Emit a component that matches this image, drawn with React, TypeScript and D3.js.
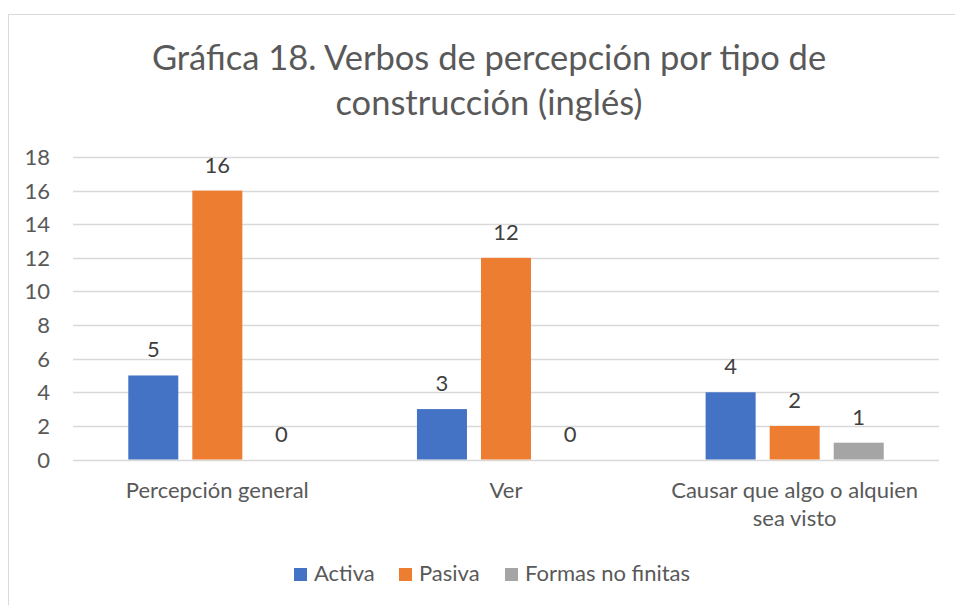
import * as d3 from 'd3';
import { useEffect, useRef } from 'react';

const categories = ['Percepción general', 'Ver', 'Causar que algo o alquien sea visto'];
const seriesNames = ['Activa', 'Pasiva', 'Formas no finitas'];
const activa = [5, 3, 4];
const pasiva = [16, 12, 2];
const formasNoFinitas = [0, 0, 1];
const yTicks = [0, 2, 4, 6, 8, 10, 12, 14, 16, 18];
const colors = ['#4472c4', '#ed7d31', '#a5a5a5'];

export default function App() {
  const ref = useRef<SVGSVGElement>(null);

  useEffect(() => {
    const svg = d3.select(ref.current);
    svg.selectAll('*').remove();
    const font = 'Lato, "Open Sans", sans-serif';
    const textColor = '#595959';
    const fs = 22;

    // chart border
    svg.append('rect')
      .attr('x', 8.5).attr('y', 14.5)
      .attr('width', 960).attr('height', 620)
      .attr('fill', '#fff').attr('stroke', '#d9d9d9');

    // title
    const title = svg.append('text')
      .attr('text-anchor', 'middle')
      .attr('font-family', font)
      .attr('font-size', 34.5)
      .attr('fill', textColor);
    title.append('tspan').attr('x', 489).attr('y', 70).text('Gráfica 18. Verbos de percepción por tipo de');
    title.append('tspan').attr('x', 489).attr('y', 115).text('construcción (inglés)');

    const x0 = d3.scaleBand().domain(categories).range([73, 939]).paddingInner(0.383).paddingOuter(0.1915);
    const x1 = d3.scaleBand().domain(seriesNames).range([0, x0.bandwidth()]).paddingInner(0.219);
    const y = d3.scaleLinear().domain([0, 18]).range([459.5, 157]);

    // gridlines + y labels
    const yAxis = svg.append('g');
    yTicks.forEach((t) => {
      yAxis.append('line')
        .attr('x1', 73).attr('x2', 939)
        .attr('y1', Math.round(y(t)) + 0.5).attr('y2', Math.round(y(t)) + 0.5)
        .attr('stroke', '#d9d9d9').attr('stroke-width', 1.3);
      yAxis.append('text')
        .attr('x', 50).attr('y', y(t) + 8)
        .attr('text-anchor', 'end')
        .attr('font-family', font).attr('font-size', fs)
        .attr('fill', textColor)
        .text(t);
    });

    const series = [activa, pasiva, formasNoFinitas];
    const groups = svg.append('g');
    categories.forEach((c, i) => {
      const g = groups.append('g').attr('transform', `translate(${x0(c)},0)`);
      seriesNames.forEach((s, j) => {
        const v = series[j][i];
        g.append('rect')
          .attr('x', x1(s)!).attr('y', y(v))
          .attr('width', x1.bandwidth()).attr('height', y(0) - y(v))
          .attr('fill', colors[j]);
        g.append('text')
          .attr('x', x1(s)! + x1.bandwidth() / 2).attr('y', y(v) - 18)
          .attr('text-anchor', 'middle')
          .attr('font-family', font).attr('font-size', fs)
          .attr('fill', '#404040')
          .text(v);
      });
    });

    // category labels
    const xLines = [['Percepción general'], ['Ver'], ['Causar que algo o alquien', 'sea visto']];
    categories.forEach((c, i) => {
      const t = svg.append('text')
        .attr('text-anchor', 'middle')
        .attr('font-family', font).attr('font-size', fs)
        .attr('fill', textColor);
      xLines[i].forEach((line, k) => {
        t.append('tspan')
          .attr('x', x0(c)! + x0.bandwidth() / 2)
          .attr('y', 498 + k * 28)
          .text(line);
      });
    });

    // legend
    const legendX = [294, 399, 505];
    seriesNames.forEach((s, j) => {
      svg.append('rect')
        .attr('x', legendX[j]).attr('y', 568)
        .attr('width', 13).attr('height', 13)
        .attr('fill', colors[j]);
      svg.append('text')
        .attr('x', legendX[j] + 20).attr('y', 581)
        .attr('font-family', font).attr('font-size', fs)
        .attr('fill', textColor)
        .text(s);
    });
  }, []);

  return (
    <svg ref={ref} width={955} height={605} style={{ position: 'absolute', left: 0, top: 0 }} />
  );
}
